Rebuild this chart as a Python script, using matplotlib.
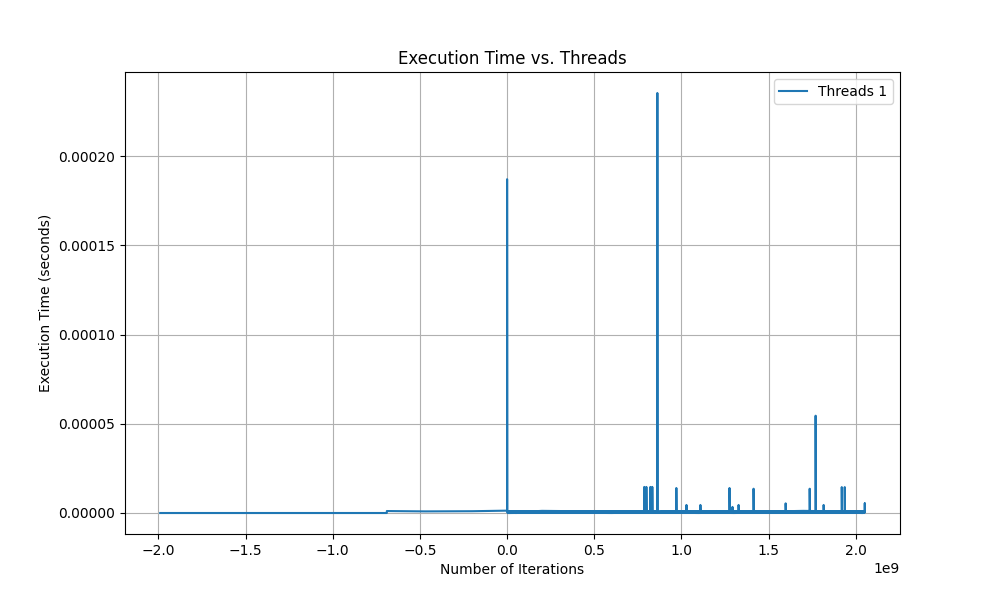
import matplotlib
matplotlib.use("Agg")
import matplotlib.pyplot as plt

# iterations (overflowed int values) and timings
iterations = [
    -1990000000, -690000000, -690000000, -470000000, -200000000, -10000000,
    0, 0, 0, 1000000,
    50000000, 300000000, 550000000, 786000000,
    787000000, 787000000, 788000000, 799000000, 799000000, 800000000,
    822000000, 822000000, 823000000, 833000000, 833000000, 834000000,
    862000000, 862000000, 863000000, 920000000,
    971000000, 971000000, 972000000, 1029000000, 1029000000, 1030000000,
    1109000000, 1109000000, 1110000000, 1200000000,
    1276000000, 1276000000, 1277000000, 1293000000, 1293000000, 1294000000,
    1328000000, 1328000000, 1329000000, 1414000000, 1414000000, 1415000000,
    1500000000, 1598000000, 1598000000, 1599000000,
    1736000000, 1736000000, 1737000000, 1770000000, 1770000000, 1771000000,
    1816000000, 1816000000, 1817000000, 1920000000, 1920000000, 1921000000,
    1937000000, 1937000000, 1938000000, 2052000000, 2052000000, 2052000000,
    1500000000, 900000000, 300000000, 5000000,
    600000000, 1200000000, 1800000000, 2050000000,
    1700000000, 1100000000, 400000000, 10000000,
    700000000, 1400000000, 2040000000,
    1600000000, 1000000000, 200000000, 3000000,
    500000000, 1300000000, 2045000000,
    1900000000, 800000000, 8000000,
    1000000000, 2048000000,
]
exec_times = [
    0.0, 0.0, 1.1e-6, 0.9e-6, 1.0e-6, 1.3e-6,
    1.3e-6, 1.3e-5, 1.87e-4, 0.5e-6,
    0.0, 1.0e-6, 0.2e-6, 0.8e-6,
    0.8e-6, 1.46e-5, 0.3e-6, 0.3e-6, 1.46e-5, 0.5e-6,
    0.5e-6, 1.46e-5, 0.2e-6, 0.2e-6, 1.46e-5, 0.6e-6,
    0.6e-6, 2.353e-4, 0.4e-6, 1.0e-6,
    0.9e-6, 1.4e-5, 0.2e-6, 0.2e-6, 4.5e-6, 0.8e-6,
    0.8e-6, 4.5e-6, 0.1e-6, 1.0e-6,
    0.9e-6, 1.4e-5, 0.3e-6, 0.3e-6, 3.4e-6, 0.7e-6,
    0.7e-6, 4.5e-6, 0.2e-6, 0.2e-6, 1.36e-5, 0.9e-6,
    0.1e-6, 0.5e-6, 5.4e-6, 0.6e-6,
    0.6e-6, 1.36e-5, 0.3e-6, 0.3e-6, 5.45e-5, 0.8e-6,
    0.8e-6, 4.5e-6, 0.2e-6, 0.2e-6, 1.45e-5, 0.5e-6,
    0.5e-6, 1.45e-5, 0.9e-6, 0.9e-6, 5.4e-6, 0.3e-6,
    1.0e-6, 0.1e-6, 0.9e-6, 0.4e-6,
    0.0, 1.1e-6, 0.2e-6, 0.6e-6,
    1.2e-6, 0.0, 0.7e-6, 1.1e-6,
    0.3e-6, 0.8e-6, 0.0,
    1.1e-6, 0.4e-6, 1.2e-6, 0.1e-6,
    0.9e-6, 0.0, 1.0e-6,
    0.2e-6, 1.1e-6, 0.0,
    0.6e-6, 0.1e-6,
]

fig, ax = plt.subplots(figsize=(10, 6))
ax.plot(iterations, exec_times, label="Threads 1")
ax.set_xlabel("Number of Iterations")
ax.set_ylabel("Execution Time (seconds)")
ax.set_title("Execution Time vs. Threads")
ax.legend()
ax.grid(True)
plt.savefig("out.png", dpi=100)
